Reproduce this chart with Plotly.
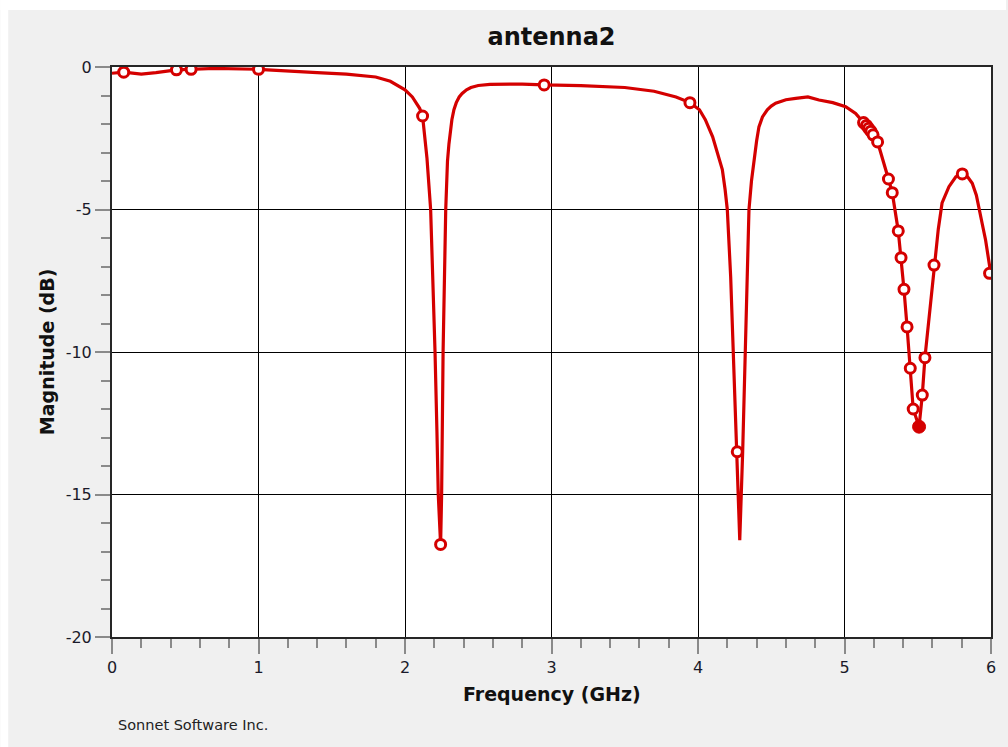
import plotly.graph_objects as go

# ---- data ----
freq_line = [0.00, 0.08, 0.20, 0.30, 0.44, 0.54, 0.70, 1.00, 1.20, 1.40, 1.60, 1.80, 1.90, 2.00, 2.05,
             2.10, 2.12, 2.15, 2.175, 2.19, 2.205, 2.218, 2.227, 2.243, 2.25, 2.26, 2.27, 2.278, 2.29,
             2.30, 2.32, 2.334, 2.35, 2.37, 2.39, 2.42, 2.45, 2.50, 2.58, 2.65, 2.80, 2.95, 3.20, 3.50,
             3.70, 3.85, 3.945, 4.01, 4.05, 4.10, 4.14, 4.166, 4.185, 4.20, 4.223, 4.241, 4.268, 4.285,
             4.305, 4.321, 4.337, 4.348, 4.365, 4.382, 4.40, 4.416, 4.44, 4.473, 4.50, 4.53, 4.60, 4.667,
             4.75, 4.826, 4.92, 5.008, 5.076, 5.13, 5.15, 5.165, 5.18, 5.195, 5.226,
             5.30, 5.326, 5.367, 5.386, 5.406, 5.427, 5.449, 5.469, 5.509, 5.531, 5.549, 5.611, 5.64,
             5.666, 5.69, 5.713, 5.76, 5.804, 5.84, 5.872, 5.90, 5.918, 5.94, 5.963, 5.98, 6.00]
mag_line = [-0.22, -0.18, -0.25, -0.2, -0.1, -0.08, -0.05, -0.08, -0.15, -0.2, -0.25, -0.35, -0.5, -0.8, -1.05,
            -1.45, -1.72, -3.2, -5.0, -7.3, -10.0, -12.8, -15.0, -16.75, -15.0, -10.0, -7.0, -5.0, -3.3,
            -2.7, -1.85, -1.5, -1.25, -1.05, -0.93, -0.8, -0.72, -0.65, -0.61, -0.6, -0.6, -0.63, -0.65, -0.72,
            -0.85, -1.05, -1.25, -1.5, -1.85, -2.45, -3.1, -3.6, -4.3, -5.0, -7.36, -10.0, -13.5, -16.6,
            -13.5, -10.0, -7.36, -5.0, -4.0, -3.26, -2.6, -2.1, -1.75, -1.5, -1.37, -1.27, -1.15, -1.1,
            -1.05, -1.16, -1.25, -1.39, -1.63, -1.95, -2.05, -2.15, -2.25, -2.38, -2.63,
            -3.93, -4.41, -5.75, -6.69, -7.8, -9.12, -10.57, -12.0, -12.62, -11.51, -10.2, -6.95, -5.7,
            -4.77, -4.45, -4.2, -3.85, -3.75, -3.85, -4.08, -4.5, -5.02, -5.5, -6.07, -6.6, -7.3]

freq_marks = [0.08, 0.44, 0.54, 1.00, 2.12, 2.243, 2.95, 3.945, 4.268, 5.13, 5.15, 5.165, 5.18, 5.195,
              5.226, 5.30, 5.326, 5.367, 5.386, 5.406, 5.427, 5.449, 5.469, 5.531, 5.549, 5.611, 5.804, 5.99]
mag_marks = [-0.18, -0.1, -0.08, -0.08, -1.72, -16.75, -0.63, -1.25, -13.5, -1.95, -2.05, -2.15, -2.25, -2.38,
             -2.63, -3.93, -4.41, -5.75, -6.69, -7.8, -9.12, -10.57, -12.0, -11.51, -10.2, -6.95, -3.75, -7.24]

freq_sel = [5.509]
mag_sel = [-12.62]

x_ticks = [0, 1, 2, 3, 4, 5, 6]
x_labels = ["0", "1", "2", "3", "4", "5", "6"]
y_ticks = [-20, -15, -10, -5, 0]
y_labels = ["-20", "-15", "-10", "-5", "0"]

RED = "rgb(212,0,0)"
FONT = "DejaVu Sans"

fig = go.Figure()
fig.add_trace(go.Scatter(x=freq_line, y=mag_line, mode="lines",
                         line=dict(color=RED, width=3.2), hoverinfo="skip", showlegend=False))
fig.add_trace(go.Scatter(x=freq_marks, y=mag_marks, mode="markers",
                         marker=dict(symbol="circle", size=10, color="white",
                                     line=dict(color=RED, width=3)), showlegend=False))
fig.add_trace(go.Scatter(x=freq_sel, y=mag_sel, mode="markers",
                         marker=dict(symbol="circle", size=13, color=RED,
                                     line=dict(color=RED, width=1)), showlegend=False))

L, R, T, B = 112, 15, 67, 110
W, H = 1008, 747
PW, PH = W - L - R, H - T - B

fig.update_layout(
    width=W, height=H,
    margin=dict(l=L, r=R, t=T, b=B),
    paper_bgcolor="#f0f0f0",
    plot_bgcolor="white",
    font=dict(family=FONT, color="#1a1a2a"),
    title=dict(text="antenna2", x=0.5, xref="paper", xanchor="center",
               y=1 - 37 / H, yanchor="middle",
               font=dict(family=FONT, size=24, weight="bold", color="#111")),
    xaxis=dict(range=[0, 6], tickvals=x_ticks, ticktext=x_labels,
               showgrid=True, gridcolor="black", gridwidth=1, zeroline=False,
               showline=True, linecolor="#262626", linewidth=2, mirror=True,
               ticks="outside", ticklen=15, tickwidth=2, tickcolor="#8a8a8a",
               tickfont=dict(size=16, family=FONT),
               minor=dict(dtick=0.2, ticks="outside", ticklen=9, tickwidth=2,
                          tickcolor="#8a8a8a", showgrid=False)),
    yaxis=dict(range=[-20, 0], tickvals=y_ticks, ticktext=y_labels,
               showgrid=True, gridcolor="black", gridwidth=1, zeroline=False,
               showline=True, linecolor="#262626", linewidth=2, mirror=True,
               ticks="outside", ticklen=15, tickwidth=2, tickcolor="#8a8a8a",
               tickfont=dict(size=16, family=FONT),
               minor=dict(dtick=1, ticks="outside", ticklen=9, tickwidth=2,
                          tickcolor="#8a8a8a", showgrid=False)),
    shapes=[
        dict(type="rect", xref="paper", yref="paper", layer="below",
             x0=-L / PW, x1=(W - L) / PW, y0=(PH + T - 10) / PH, y1=(PH + T) / PH,
             fillcolor="white", line=dict(width=0)),
        dict(type="rect", xref="paper", yref="paper", layer="below",
             x0=-L / PW, x1=(8 - L) / PW, y0=-B / PH, y1=(PH + T) / PH,
             fillcolor="white", line=dict(width=0)),
    ],
    annotations=[
        dict(text="Frequency (GHz)", xref="paper", yref="paper", x=0.5, y=(637 - 694) / PH,
             xanchor="center", yanchor="middle", showarrow=False,
             font=dict(family=FONT, size=19, weight="bold", color="#111")),
        dict(text="Magnitude (dB)", xref="paper", yref="paper", x=(47 - L) / PW, y=0.5,
             xanchor="center", yanchor="middle", showarrow=False, textangle=-90,
             font=dict(family=FONT, size=19, weight="bold", color="#111")),
        dict(text="Sonnet Software Inc.", xref="paper", yref="paper", x=(116 - L) / PW,
             y=(637 - 725) / PH, xanchor="left", yanchor="middle", showarrow=False,
             font=dict(family=FONT, size=14.5, color="#222")),
    ],
)

fig.write_html("out.html")
